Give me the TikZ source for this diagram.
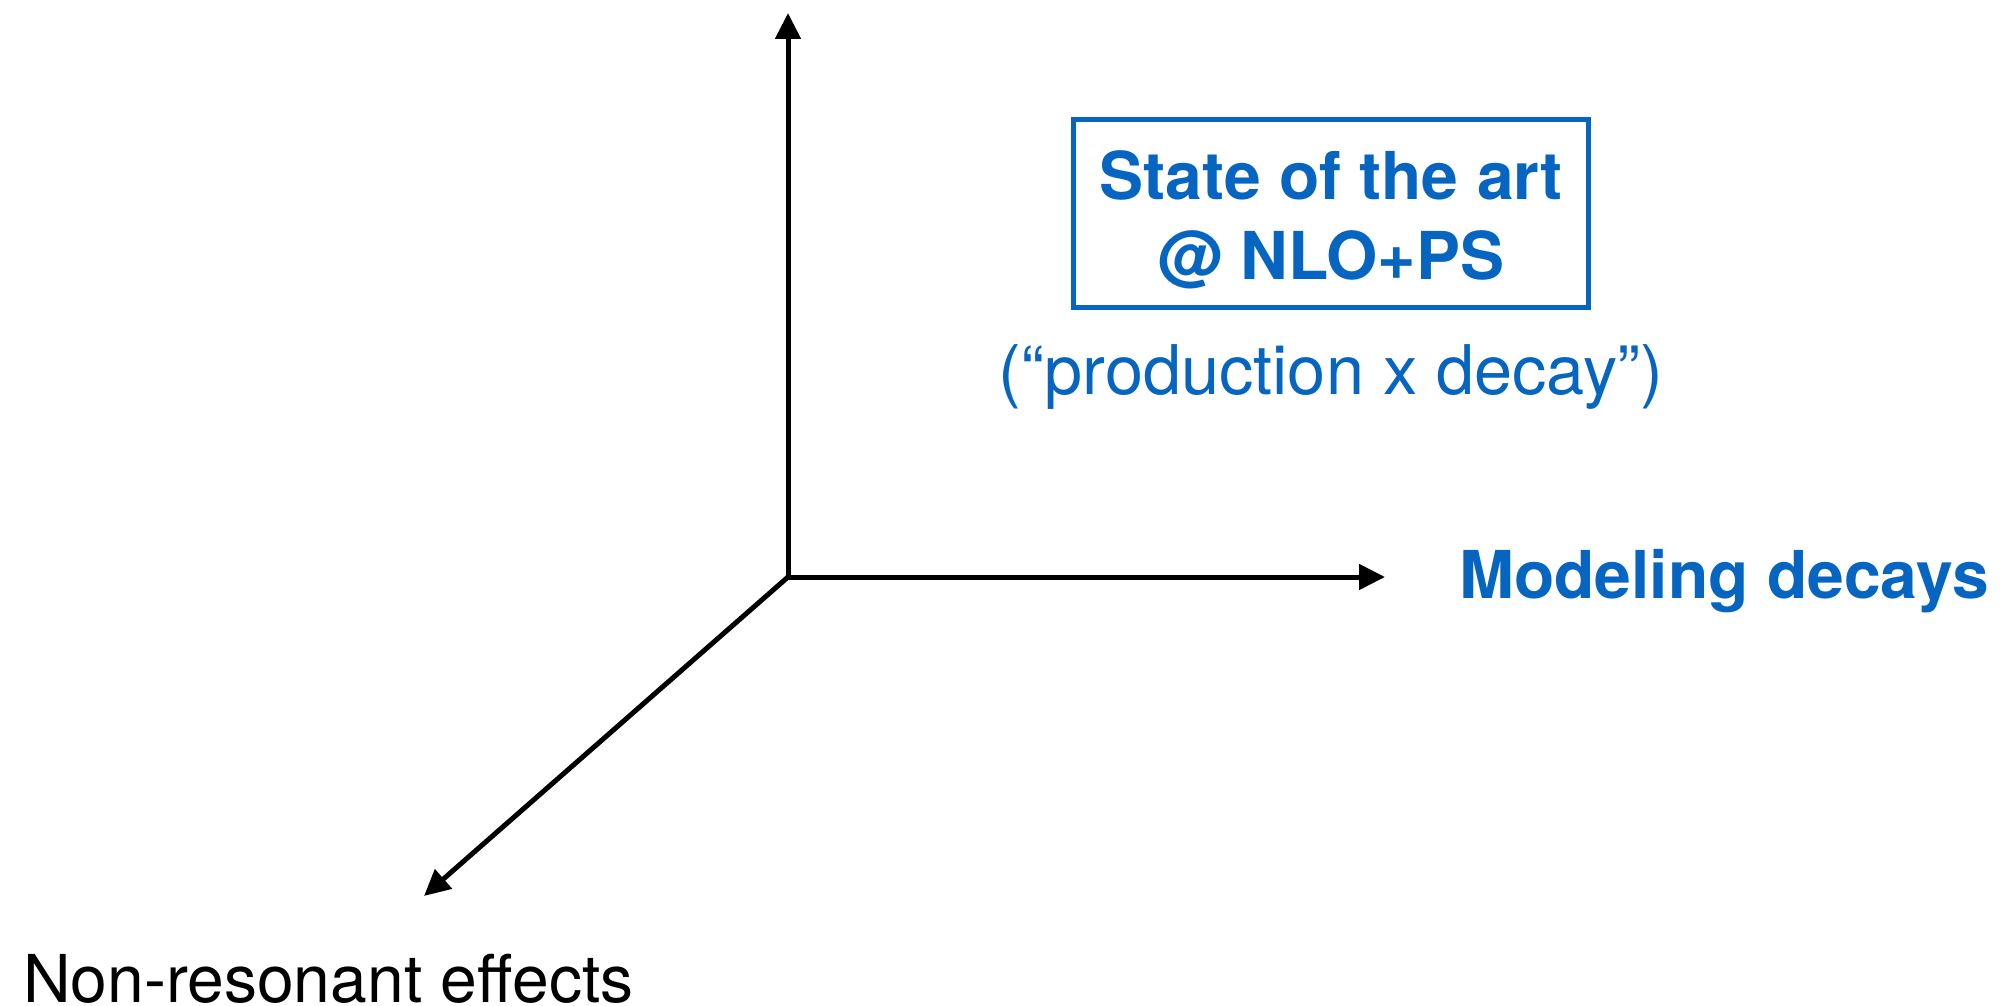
\documentclass[tikz,border=0pt]{standalone}
\usepackage{fontspec}
\setmainfont{TeX Gyre Heros}
\usetikzlibrary{arrows.meta}
\definecolor{slideblue}{RGB}{6,101,192}
\begin{document}
\begin{tikzpicture}[x=1pt,y=-1pt,
  axis/.style={line width=5pt, line join=miter, -{Triangle[length=26pt,width=25pt]}},
  boldlabel/.style={text=slideblue, font=\fontsize{66}{80}\selectfont\bfseries, inner sep=0pt},
  lightlabel/.style={font=\fontsize{66}{80}\selectfont, inner sep=0pt},
  framebox/.style={draw=slideblue, line width=5pt, inner sep=0pt,
    minimum width=515pt, minimum height=187pt}]
\useasboundingbox (0,0) rectangle (2015,1006);

% axes
\coordinate (o) at (788,577);
\coordinate (up) at (788,13);
\coordinate (right) at (1385,577);
\coordinate (diag) at (424,896);
\draw[axis] (o) -- (up);
\draw[axis] (o) -- (right);
\draw[axis] (o) -- (diag);

% framed corner label
\node[framebox] (sota) at (1330.5,213.5) {};
\node[boldlabel, anchor=base] (sotaA) at (1331,199) {State of the art};
\node[boldlabel, anchor=base] (sotaB) at (1331,279) {@ NLO+PS};
\node[lightlabel, font=\fontsize{68.5}{80}\selectfont, text=slideblue, anchor=base] (prod) at (1331,394) {(“production x decay”)};

% axis labels
\node[boldlabel, anchor=base west] (decays) at (1459,598) {Modeling decays};
\node[lightlabel, text=black, anchor=base west] (nonres) at (23,1002) {Non-resonant effects};
\end{tikzpicture}
\end{document}
